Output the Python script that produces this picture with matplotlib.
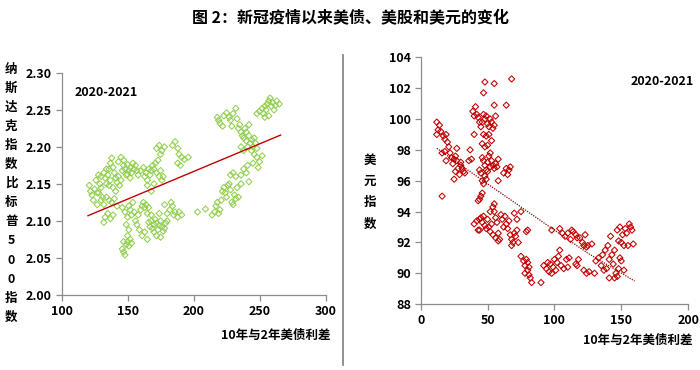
import matplotlib

matplotlib.use("Agg")
import matplotlib.pyplot as plt
from matplotlib.lines import Line2D
from matplotlib.ticker import FormatStrFormatter

plt.rcParams["font.family"] = ["Noto Sans CJK SC", "DejaVu Sans"]
plt.rcParams["font.weight"] = "bold"

# left panel: 10y-2y spread vs Nasdaq / S&P500 ratio
spread_l = [
    121, 122, 123, 124, 125, 126, 127, 128, 129, 130, 131, 127, 130, 132,
    133, 134, 135, 136, 137, 138, 139, 140, 141, 142, 143, 144, 145, 146, 147, 148,
    149, 150, 151, 152, 153, 154, 155, 156, 157, 158, 139, 141, 137, 136, 134, 143,
    145, 147, 150, 152,
    128, 130, 132, 134, 136, 138, 140, 142, 133, 132, 135, 137, 139,
    146, 148, 150, 151, 152, 153, 155, 156, 157, 158, 160, 161, 162, 163, 164, 165,
    166, 154, 149, 151, 159, 161, 163, 165,
    146, 147, 148, 149, 150, 151, 152, 153, 147, 150,
    160, 162, 163, 164, 165, 166, 167, 168, 169, 170, 171, 172, 173, 174, 175, 176,
    177, 170, 168, 165,
    172, 174, 176, 178, 175,
    184, 186, 188, 189, 191, 193, 190, 188, 196,
    166, 167, 168, 169, 170, 171, 172, 173, 174, 175, 176, 177, 178, 179, 172, 175,
    168, 174, 170,
    180, 182, 184, 185, 186, 188, 189, 191, 183, 178, 180,
    203, 209, 214, 216, 217, 218, 219, 220, 221, 222, 223, 224, 225, 226, 227, 228,
    229, 230, 231, 232, 233, 234, 232, 230, 236, 238, 240, 241, 242, 236, 228,
    218, 219, 220, 222, 223, 225, 227, 228, 229, 230, 232, 233, 234, 235, 236, 237,
    238, 239, 240, 241, 242, 243, 244, 245, 246, 247, 248, 244, 246, 248, 250, 252,
    245, 249, 236, 238, 240, 242,
    248, 250, 252, 253, 254, 255, 256, 257, 258, 259, 260, 261, 262, 263, 265, 254, 257,
]
ratio_l = [
    2.148, 2.140, 2.135, 2.128, 2.143, 2.155, 2.138, 2.162, 2.150, 2.145, 2.132, 2.122, 2.160, 2.165,
    2.158, 2.150, 2.162, 2.170, 2.178, 2.185, 2.172, 2.165, 2.158, 2.152, 2.160, 2.148, 2.155, 2.168, 2.175, 2.170,
    2.162, 2.176, 2.168, 2.172, 2.165, 2.178, 2.170, 2.175, 2.168, 2.162, 2.145, 2.140, 2.155, 2.148, 2.170, 2.180,
    2.186, 2.182, 2.163, 2.158,
    2.138, 2.128, 2.122, 2.132, 2.128, 2.125, 2.130, 2.120, 2.105, 2.098, 2.110, 2.103, 2.108,
    2.118, 2.112, 2.105, 2.120, 2.115, 2.108, 2.112, 2.100, 2.095, 2.108, 2.115, 2.120, 2.125, 2.118, 2.122, 2.110,
    2.118, 2.125, 2.095, 2.088, 2.088, 2.080, 2.085, 2.075,
    2.062, 2.058, 2.054, 2.068, 2.072, 2.066, 2.075, 2.070, 2.072, 2.080,
    2.168, 2.172, 2.160, 2.165, 2.155, 2.170, 2.162, 2.168, 2.175, 2.170, 2.178, 2.165, 2.182, 2.160, 2.168, 2.155,
    2.160, 2.150, 2.140, 2.148,
    2.198, 2.202, 2.195, 2.200, 2.190,
    2.202, 2.207, 2.198, 2.190, 2.186, 2.183, 2.175, 2.178, 2.186,
    2.098, 2.092, 2.100, 2.090, 2.095, 2.102, 2.097, 2.088, 2.094, 2.100, 2.092, 2.086, 2.090, 2.097, 2.080, 2.078,
    2.108, 2.110, 2.085,
    2.110, 2.115, 2.120, 2.108, 2.112, 2.105, 2.112, 2.108, 2.125, 2.122, 2.100,
    2.112, 2.116, 2.108, 2.112, 2.120, 2.125, 2.110, 2.115, 2.128, 2.140, 2.145, 2.138, 2.132, 2.148, 2.150, 2.142,
    2.125, 2.122, 2.135, 2.130, 2.145, 2.132, 2.160, 2.165, 2.162, 2.170, 2.165, 2.175, 2.153, 2.150, 2.162,
    2.240, 2.236, 2.232, 2.228, 2.242, 2.246, 2.240, 2.236, 2.228, 2.245, 2.252, 2.238, 2.225, 2.230, 2.220, 2.215,
    2.212, 2.225, 2.208, 2.200, 2.215, 2.205, 2.210, 2.200, 2.212, 2.205, 2.198, 2.195, 2.190, 2.186, 2.180, 2.188,
    2.178, 2.172, 2.200, 2.195, 2.220, 2.230,
    2.245, 2.248, 2.252, 2.245, 2.255, 2.250, 2.258, 2.262, 2.266, 2.255, 2.260, 2.250, 2.256, 2.262, 2.258, 2.240, 2.242,
]
trend_l_x = [120, 266]
trend_l_y = [2.107, 2.216]

# right panel: 10y-2y spread vs dollar index
spread_r = [
    12, 13, 14, 12, 15, 17, 18, 19, 20, 21, 18, 16, 19, 22, 23, 25, 24, 26, 27, 26,
    28, 30, 29, 31, 32, 33, 25, 27, 30, 16,
    36, 37, 38, 40,
    39, 40, 41, 42, 43, 44, 45, 46, 47, 48, 49, 50, 51, 52, 53, 54, 55, 56, 47, 49,
    51, 46, 48, 50, 53,
    47, 48, 55, 55, 64, 68,
    46, 47, 48, 49, 50, 51, 52, 53, 54, 55, 56, 57, 45, 46, 47, 48, 49, 50, 52, 58,
    58, 62, 64, 65, 67, 66, 44,
    45, 46, 44, 43,
    40, 42, 43, 44, 45, 46, 47, 48, 49, 50, 51, 52, 53, 54, 55, 56, 57, 58, 59, 60,
    61, 62, 63, 64, 65, 66, 67, 68, 69, 70, 71, 72, 73, 68, 70, 72, 75, 56, 54, 44,
    52, 55, 58,
    75, 77, 78, 79, 80, 80, 81, 82, 83, 81, 78, 80, 79,
    90,
    92, 94, 96, 97, 99, 100, 101, 102, 103, 104, 105, 107, 109, 110, 111, 95, 98,
    98, 104, 106, 108, 110, 112, 114, 116, 117, 119, 121, 122, 123, 124, 125, 128, 113,
    116, 118, 117, 122, 124, 126,
    130, 131, 133, 135, 137, 138, 140, 141, 142, 143, 144, 145, 146, 147, 148, 149,
    150, 151, 152, 153, 154, 155, 156, 157, 158, 159, 150, 152, 145, 141, 147, 149,
    139, 136, 148,
]
dxy_r = [
    99.8, 99.3, 99.6, 99.0, 99.2, 98.9, 98.7, 99.0, 98.5, 98.2, 97.9, 97.8, 97.3, 97.8, 97.5, 97.4, 97.1, 97.6, 97.3, 96.6,
    96.8, 97.0, 96.4, 96.8, 96.6, 96.5, 96.1, 98.1, 97.2, 95.0,
    97.3, 98.0, 97.4, 99.0,
    100.5, 100.2, 100.8, 100.3, 100.1, 99.8, 99.5, 99.8, 100.3, 100.0, 100.2, 99.7, 99.5, 100.0, 99.8, 99.4, 99.6, 100.2, 99.0, 98.9,
    99.0, 98.4, 98.2, 98.3, 98.6,
    101.7, 102.4, 102.3, 100.9, 100.9, 102.6,
    97.5, 97.3, 97.0, 96.7, 97.2, 97.6, 97.8, 97.3, 97.0, 96.8, 97.1, 96.9, 96.5, 96.0, 95.8, 96.3, 96.1, 96.6, 96.9, 97.4,
    96.0, 96.5, 96.8, 96.4, 96.9, 96.7, 96.7,
    95.0, 95.2, 94.8, 94.7,
    93.2, 93.4, 92.8, 93.5, 93.6, 93.3, 93.7, 93.1, 92.9, 93.5, 93.0, 92.7, 93.2, 94.3, 94.0, 93.6, 93.3, 92.6, 92.2, 93.8,
    93.5, 93.0, 93.7, 93.2, 92.9, 93.4, 92.5, 92.2, 92.0, 92.6, 92.4, 92.8, 92.0, 91.8, 93.9, 93.5, 94.0, 92.3, 92.5, 92.8,
    94.0, 94.5, 92.1,
    91.1, 90.8, 90.5, 90.9, 90.7, 90.2, 89.9, 89.7, 89.4, 90.4, 90.0, 92.8, 92.7,
    89.4,
    90.5, 90.3, 90.1, 90.6, 90.4, 90.9, 90.2, 90.7, 91.1, 91.5, 90.5, 90.3, 90.9, 90.4, 91.0, 90.7, 90.0,
    92.8, 92.9, 92.6, 92.4, 92.6, 92.2, 92.7, 92.5, 92.3, 92.3, 92.0, 91.8, 92.5, 91.7, 91.8, 91.9, 92.8,
    90.6, 90.9, 90.5, 90.2, 90.0, 90.1,
    90.0, 90.8, 91.0, 90.5, 90.2, 91.5, 91.8, 90.9, 92.4, 91.2, 90.6, 91.5, 90.0, 89.8, 90.3, 91.0,
    92.0, 92.5, 91.8, 92.9, 92.6, 91.8, 93.2, 93.0, 92.8, 91.9, 90.8, 90.2, 89.7, 89.7, 92.8, 93.0,
    90.3, 91.2, 92.1,
]
trend_r_x = [12, 50, 100, 125, 160]
trend_r_y = [98.1, 95.8, 92.8, 91.3, 89.5]

title = "图 2：新冠疫情以来美债、美股和美元的变化"
ylabel_l = "纳斯达克指数比标普500指数"
ylabel_r = "美元指数"
xlabel = "10年与2年美债利差"
period = "2020-2021"

green = "#92D050"
red = "#C00000"
axis_grey = "#8C8C8C"

fig = plt.figure(figsize=(7, 3.7), dpi=100)
fig.patch.set_facecolor("white")

ax_l = fig.add_axes([0.088, 0.203, 0.377, 0.600])
ax_r = fig.add_axes([0.601, 0.178, 0.382, 0.667])


def style_axis(ax):
    for side in ("top", "right"):
        ax.spines[side].set_visible(False)
    for side in ("left", "bottom"):
        ax.spines[side].set_color(axis_grey)
        ax.spines[side].set_linewidth(0.9)
    ax.tick_params(direction="out", length=4, width=0.9, color=axis_grey,
                   labelsize=9, labelcolor="black", pad=3)
    for lab in ax.get_xticklabels() + ax.get_yticklabels():
        lab.set_fontweight("bold")


ax_l.scatter(spread_l, ratio_l, marker="D", s=10, facecolors="none",
             edgecolors=green, linewidths=0.75)
ax_l.plot(trend_l_x, trend_l_y, color=red, linewidth=1.0)
ax_l.set_xlim(100, 300)
ax_l.set_ylim(2.00, 2.30)
ax_l.set_xticks([100, 150, 200, 250, 300])
ax_l.set_yticks([2.00, 2.05, 2.10, 2.15, 2.20, 2.25, 2.30])
ax_l.yaxis.set_major_formatter(FormatStrFormatter("%.2f"))
style_axis(ax_l)
ax_l.text(0.05, 0.94, period, transform=ax_l.transAxes, fontsize=9,
          fontweight="bold", va="top", ha="left")

ax_r.scatter(spread_r, dxy_r, marker="D", s=10, facecolors="none",
             edgecolors=red, linewidths=0.75)
ax_r.plot(trend_r_x, trend_r_y, color="#A00000", linewidth=0.9,
          linestyle=(0, (1, 1)))
ax_r.set_xlim(0, 200)
ax_r.set_ylim(88, 104)
ax_r.set_xticks([0, 50, 100, 150, 200])
ax_r.set_yticks(list(range(88, 105, 2)))
style_axis(ax_r)
ax_r.text(1.02, 0.93, period, transform=ax_r.transAxes, fontsize=9,
          fontweight="bold", va="top", ha="right")

fig.text(0.5, 0.95, title, ha="center", va="center", fontsize=11.5,
         fontweight="bold")

# stacked vertical axis titles
for i, ch in enumerate(ylabel_l):
    fig.text(0.016, 1 - (69 + i * 19.1) / 370, ch, ha="center", va="center",
             fontsize=9, fontweight="bold")
for i, ch in enumerate(ylabel_r):
    fig.text(0.528, 1 - (160 + i * 21.5) / 370, ch, ha="center", va="center",
             fontsize=9, fontweight="bold")

fig.text(0.472, 1 - 335 / 370, xlabel, ha="right", va="center", fontsize=9,
         fontweight="bold")
fig.text(0.99, 1 - 340 / 370, xlabel, ha="right", va="center", fontsize=9,
         fontweight="bold")

fig.add_artist(Line2D([343 / 700, 343 / 700], [1 - 55 / 370, 1 - 365 / 370],
                      transform=fig.transFigure, color="#7F7F7F", linewidth=1.2))

fig.savefig("out.png", dpi=100, facecolor="white")
